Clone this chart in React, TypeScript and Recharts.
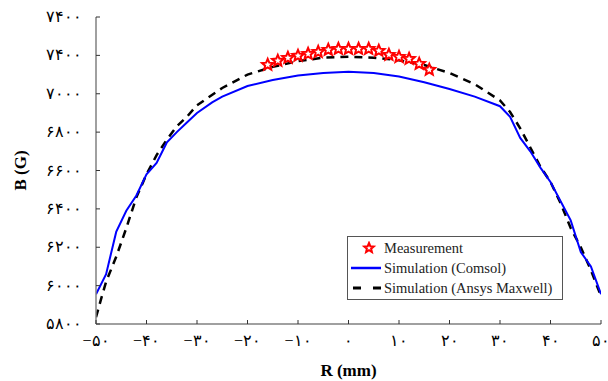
import { ComposedChart, Line, Scatter, XAxis, YAxis, Legend } from 'recharts'

// radius (mm)
const rComsol = [-50, -48, -46, -44, -42, -40, -38, -36, -34, -32, -30, -27, -25, -20, -15, -10, -5, 0, 5, 10, 15, 20, 25, 30, 32, 34, 36, 38, 40, 42, 44, 46, 48, 50]
const bComsol = [5955, 6060, 6280, 6390, 6470, 6580, 6640, 6745, 6800, 6850, 6900, 6955, 6985, 7040, 7072, 7095, 7108, 7114, 7108, 7090, 7060, 7025, 6985, 6935, 6880, 6770, 6700, 6615, 6540, 6440, 6340, 6175, 6100, 5955]

const rAnsys = [-50, -49, -48, -46, -44, -42, -40, -38, -36, -34, -32, -30, -25, -20, -15, -10, -5, 0, 5, 10, 15, 20, 25, 30, 32, 34, 36, 38, 40, 42, 44, 46, 48, 50]
const bAnsys = [5835, 5930, 6020, 6150, 6300, 6460, 6580, 6680, 6760, 6830, 6880, 6940, 7030, 7100, 7140, 7170, 7188, 7193, 7188, 7175, 7150, 7108, 7050, 6965, 6905, 6820, 6720, 6620, 6540, 6430, 6300, 6200, 6080, 5945]

const rMeas = [-16, -14, -12, -10, -8, -6, -4, -2, 0, 2, 4, 6, 8, 10, 12, 14, 16]
const bMeas = [7156, 7177, 7192, 7203, 7213, 7223, 7234, 7239, 7239, 7239, 7239, 7229, 7208, 7197, 7187, 7161, 7130]

const xTicks = [-50, -40, -30, -20, -10, 0, 10, 20, 30, 40, 50]
const xTickLabels = ['−۵۰', '−۴۰', '−۳۰', '−۲۰', '−۱۰', '۰', '۱۰', '۲۰', '۳۰', '۴۰', '۵۰']
const yTicks = [5800, 6000, 6200, 6400, 6600, 6800, 7000, 7200, 7400]
const yTickLabels = ['۵۸۰۰', '۶۰۰۰', '۶۲۰۰', '۶۴۰۰', '۶۶۰۰', '۶۸۰۰', '۷۰۰۰', '۷۴۰۰', '۷۴۰۰']

const comsol = rComsol.map((r, i) => ({ r, b: bComsol[i] }))
const ansys = rAnsys.map((r, i) => ({ r, b: bAnsys[i] }))
const meas = rMeas.map((r, i) => ({ r, b: bMeas[i] }))

const font = '"Liberation Serif", serif'
const axisGray = '#808080'
const tickLen = 4

function starPath(cx: number, cy: number, R: number) {
  const r = R * 0.45
  let d = ''
  for (let k = 0; k < 10; k++) {
    const rad = k % 2 === 0 ? R : r
    const a = -Math.PI / 2 + (k * Math.PI) / 5
    d += (k === 0 ? 'M' : 'L') + (cx + rad * Math.cos(a)).toFixed(2) + ',' + (cy + rad * Math.sin(a)).toFixed(2)
  }
  return d + 'Z'
}

const Star = (props: any) => {
  const { cx, cy } = props
  if (cx == null || cy == null) return null
  return <path d={starPath(cx, cy + 1, 6)} fill="#ffffff" stroke="#ff0000" strokeWidth={2} />
}

const BottomTick = (props: any) => {
  const { x, y, payload } = props
  const i = xTicks.indexOf(payload.value)
  return (
    <g>
      <line x1={x} y1={y} x2={x} y2={y - tickLen} stroke="#333" strokeWidth={1} />
      <text x={x} y={y + 22} textAnchor="middle" fontSize={16} fontFamily={font} fill="#000">
        {xTickLabels[i]}
      </text>
    </g>
  )
}

const LeftTick = (props: any) => {
  const { x, y, payload } = props
  const i = yTicks.indexOf(payload.value)
  return (
    <g>
      <line x1={x} y1={y} x2={x + tickLen} y2={y} stroke="#333" strokeWidth={1} />
      <text x={x - 14} y={y + 5} textAnchor="end" fontSize={16} fontFamily={font} fill="#000">
        {yTickLabels[i]}
      </text>
    </g>
  )
}

const TopTick = (props: any) => {
  const { x, y } = props
  return <line x1={x} y1={y} x2={x} y2={y + tickLen} stroke="#333" strokeWidth={1} />
}

const RightTick = (props: any) => {
  const { x, y } = props
  return <line x1={x} y1={y} x2={x - tickLen} y2={y} stroke="#333" strokeWidth={1} />
}

const LegendBox = () => (
  <div
    style={{
      boxSizing: 'border-box',
      width: 216,
      border: '1px solid #555',
      background: '#fff',
      padding: '1px 2px 1px 3px',
      fontFamily: font,
      fontSize: 14.5,
      lineHeight: '20px',
      color: '#222',
      whiteSpace: 'nowrap',
    }}
  >
    <div style={{ display: 'flex', alignItems: 'center' }}>
      <svg width={30} height={14}>
        <path d={starPath(18, 7, 5)} fill="#fff" stroke="#ff0000" strokeWidth={2} />
      </svg>
      <span style={{ marginLeft: 3 }}>Measurement</span>
    </div>
    <div style={{ display: 'flex', alignItems: 'center' }}>
      <svg width={30} height={14}>
        <line x1={0} y1={7} x2={30} y2={7} stroke="#0000ff" strokeWidth={2.5} />
      </svg>
      <span style={{ marginLeft: 3 }}>Simulation (Comsol)</span>
    </div>
    <div style={{ display: 'flex', alignItems: 'center' }}>
      <svg width={30} height={14}>
        <line x1={2} y1={7} x2={30} y2={7} stroke="#000" strokeWidth={3} strokeDasharray="8 12" />
      </svg>
      <span style={{ marginLeft: 3 }}>Simulation (Ansys Maxwell)</span>
    </div>
  </div>
)

export default function App() {
  return (
    <div style={{ position: 'absolute', left: 0, top: 0, width: 608, height: 381, background: '#fff' }}>
      <ComposedChart width={608} height={381} margin={{ top: 17, right: 7, bottom: 0, left: 0 }}>
        <XAxis
          type="number"
          dataKey="r"
          domain={[-50, 50]}
          ticks={xTicks}
          interval={0}
          height={57}
          tickSize={0}
          tickMargin={0}
          tickLine={false}
          tick={<BottomTick />}
          stroke={axisGray}
          strokeWidth={1.5}
          allowDataOverflow
          label={{ value: 'R (mm)', position: 'insideBottom', offset: 5, fontSize: 17, fontWeight: 'bold', fontFamily: font, fill: '#000' }}
        />
        <XAxis
          xAxisId="top"
          orientation="top"
          type="number"
          dataKey="r"
          domain={[-50, 50]}
          ticks={xTicks}
          interval={0}
          height={0}
          tickSize={0}
          tickMargin={0}
          tickLine={false}
          tick={<TopTick />}
          stroke={axisGray}
          strokeWidth={1.5}
          allowDataOverflow
        />
        <YAxis
          type="number"
          dataKey="b"
          domain={[5800, 7400]}
          ticks={yTicks}
          interval={0}
          width={96}
          tickSize={0}
          tickMargin={0}
          tickLine={false}
          tick={<LeftTick />}
          stroke={axisGray}
          strokeWidth={1.5}
          allowDataOverflow
          label={{ value: 'B (G)', angle: -90, position: 'insideLeft', offset: 20, fontSize: 17, fontWeight: 'bold', fontFamily: font, fill: '#000', style: { textAnchor: 'middle' } }}
        />
        <YAxis
          yAxisId="right"
          orientation="right"
          type="number"
          dataKey="b"
          domain={[5800, 7400]}
          ticks={yTicks}
          interval={0}
          width={0}
          tickSize={0}
          tickMargin={0}
          tickLine={false}
          tick={<RightTick />}
          stroke={axisGray}
          strokeWidth={1.5}
          allowDataOverflow
        />
        <Legend
          layout="horizontal"
          verticalAlign="middle"
          align="center"
          wrapperStyle={{ left: 347, top: 236, width: 216, height: 'auto' }}
          content={<LegendBox />}
        />
        <Line
          data={ansys}
          dataKey="b"
          type="linear"
          stroke="#000"
          strokeWidth={2.5}
          strokeDasharray="8 6"
          dot={false}
          isAnimationActive={false}
          name="Simulation (Ansys Maxwell)"
        />
        <Line
          data={comsol}
          dataKey="b"
          type="linear"
          stroke="#0000ff"
          strokeWidth={2}
          dot={false}
          isAnimationActive={false}
          name="Simulation (Comsol)"
        />
        <Scatter data={meas} dataKey="b" shape={<Star />} isAnimationActive={false} name="Measurement" />
      </ComposedChart>
    </div>
  )
}
